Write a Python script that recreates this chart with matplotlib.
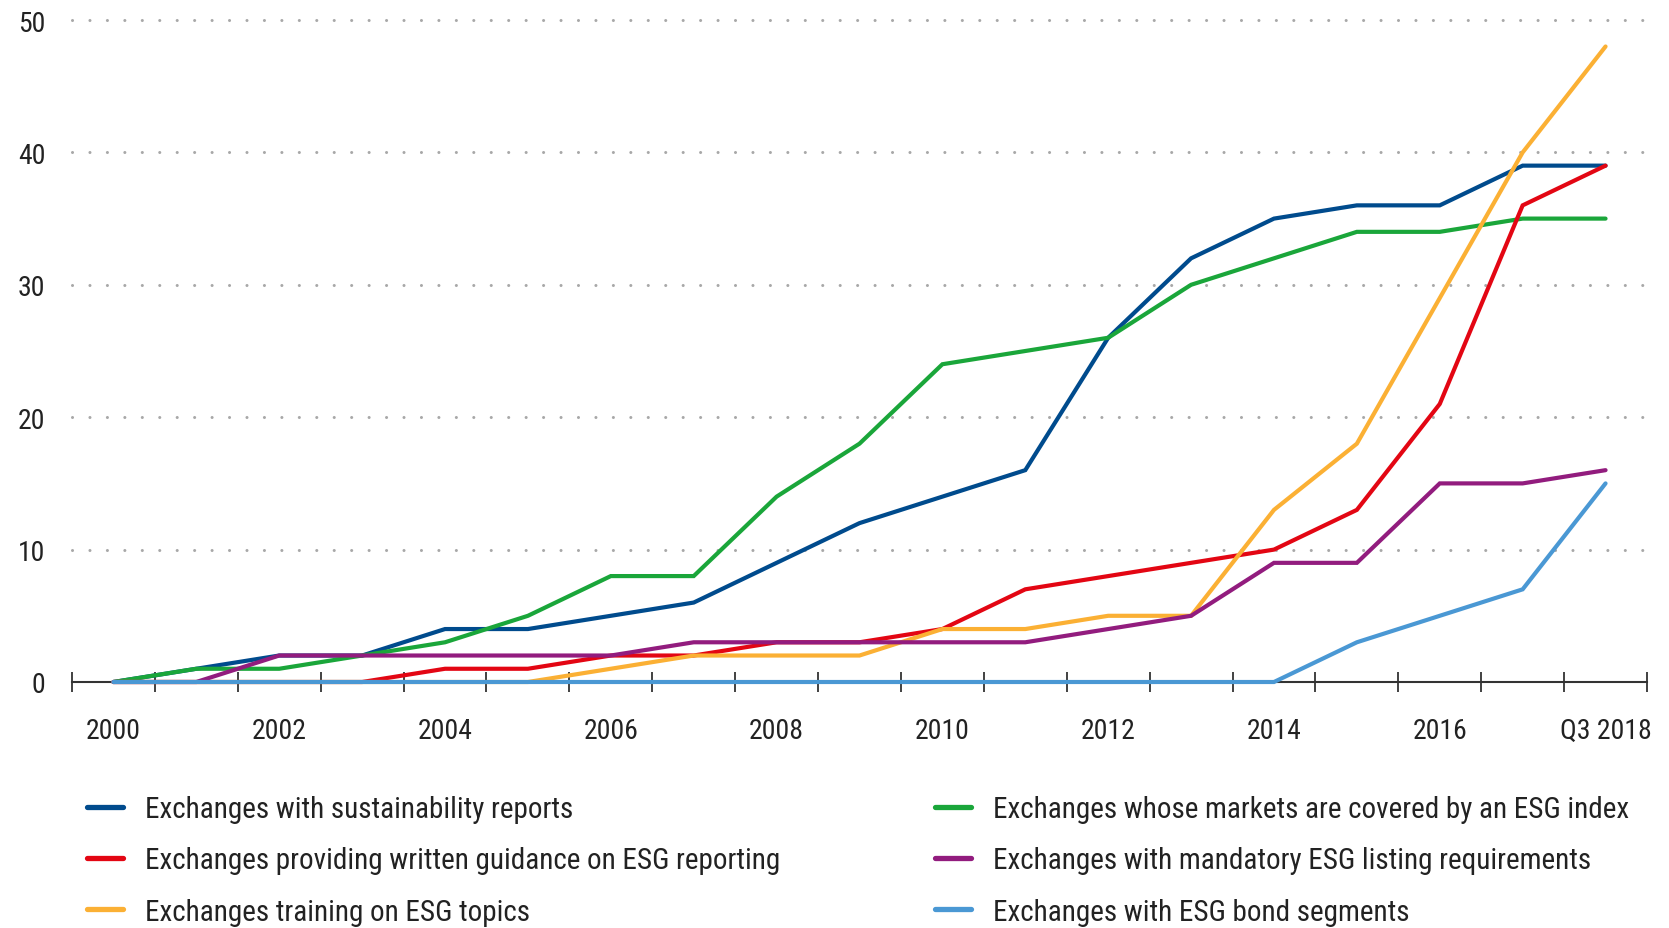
import matplotlib
matplotlib.use("Agg")
import matplotlib.pyplot as plt
from matplotlib import font_manager

names = {f.name for f in font_manager.fontManager.ttflist}
family = "DejaVu Sans"
for cand in ["Roboto Condensed", "Liberation Sans Narrow", "Open Sans Condensed", "DejaVu Sans Condensed", "Roboto"]:
    if cand in names:
        family = cand
        break
plt.rcParams["font.family"] = [family, "DejaVu Sans"]

categories = ["2000", "2001", "2002", "2003", "2004", "2005", "2006", "2007", "2008",
              "2009", "2010", "2011", "2012", "2013", "2014", "2015", "2016", "2017", "Q3 2018"]
tick_labels = ["2000", "", "2002", "", "2004", "", "2006", "", "2008", "", "2010", "",
               "2012", "", "2014", "", "2016", "", "Q3 2018"]

sustainability_reports = [0, 1, 2, 2, 4, 4, 5, 6, 9, 12, 14, 16, 26, 32, 35, 36, 36, 39, 39]
esg_index = [0, 1, 1, 2, 3, 5, 8, 8, 14, 18, 24, 25, 26, 30, 32, 34, 34, 35, 35]
written_guidance = [0, 0, 0, 0, 1, 1, 2, 2, 3, 3, 4, 7, 8, 9, 10, 13, 21, 36, 39]
training = [0, 0, 0, 0, 0, 0, 1, 2, 2, 2, 4, 4, 5, 5, 13, 18, 29, 40, 48]
mandatory_listing = [0, 0, 2, 2, 2, 2, 2, 3, 3, 3, 3, 3, 4, 5, 9, 9, 15, 15, 16]
bond_segments = [0, 0, 0, 0, 0, 0, 0, 0, 0, 0, 0, 0, 0, 0, 0, 3, 5, 7, 15]

series = [
    ("Exchanges with sustainability reports", sustainability_reports, "#004b8d"),
    ("Exchanges whose markets are covered by an ESG index", esg_index, "#1aa63a"),
    ("Exchanges providing written guidance on ESG reporting", written_guidance, "#e30613"),
    ("Exchanges training on ESG topics", training, "#fbb034"),
    ("Exchanges with mandatory ESG listing requirements", mandatory_listing, "#921c7e"),
    ("Exchanges with ESG bond segments", bond_segments, "#4a98d4"),
]
grid_values = [10, 20, 30, 40, 50]
y_ticks = [0, 10, 20, 30, 40, 50]

fig = plt.figure(figsize=(16.69, 9.29), dpi=100)
ax = fig.add_axes([72 / 1669, 1 - 683 / 929, (1647 - 72) / 1669, (683 - 21) / 929])

x = list(range(len(categories)))
handles = {}
for label, vals, color in series:
    ln, = ax.plot(x, vals, color=color, lw=3.0, solid_joinstyle="miter",
                  solid_capstyle="round", clip_on=False, zorder=3)
    handles[label] = ln

for g in grid_values:
    ax.axhline(g, xmin=0, xmax=1.006, color="#a8a8a8", lw=2.2,
               linestyle=(0, (0.01, 5.7)), dash_capstyle="round", clip_on=False, zorder=1)

ax.set_xlim(-0.5, len(categories) - 0.5)
ax.set_ylim(0, 50)

for s in ["top", "right", "left"]:
    ax.spines[s].set_visible(False)
ax.spines["bottom"].set_color("#333333")
ax.spines["bottom"].set_linewidth(1.5)
ax.spines["bottom"].set_zorder(2)

ax.set_xticks(x)
ax.set_xticklabels(tick_labels)
ax.set_xticks([i - 0.5 for i in range(len(categories) + 1)], minor=True)
ax.tick_params(axis="x", which="major", length=0, pad=25, labelsize=20, labelcolor="#222222")
ax.tick_params(axis="x", which="minor", direction="inout", length=15, width=1.3, color="#333333")

ax.set_yticks(y_ticks)
ax.set_yticklabels([str(v) for v in y_ticks])
ax.tick_params(axis="y", length=0, pad=19, labelsize=20, labelcolor="#222222")

left_labels = [series[0][0], series[2][0], series[3][0]]
right_labels = [series[1][0], series[4][0], series[5][0]]

common = dict(frameon=False, fontsize=21, handlelength=1.25, handletextpad=0.75,
              labelspacing=0.8, borderpad=0, borderaxespad=0, labelcolor="#222222")
leg1 = fig.legend([handles[l] for l in left_labels], left_labels, loc="upper left",
                  bbox_to_anchor=(87 / 1669, 1 - 796 / 929), **common)
leg2 = fig.legend([handles[l] for l in right_labels], right_labels, loc="upper left",
                  bbox_to_anchor=(935 / 1669, 1 - 796 / 929), **common)
for leg in (leg1, leg2):
    for h in leg.legend_handles:
        h.set_linewidth(3.8)

fig.savefig("out.png", dpi=100)
